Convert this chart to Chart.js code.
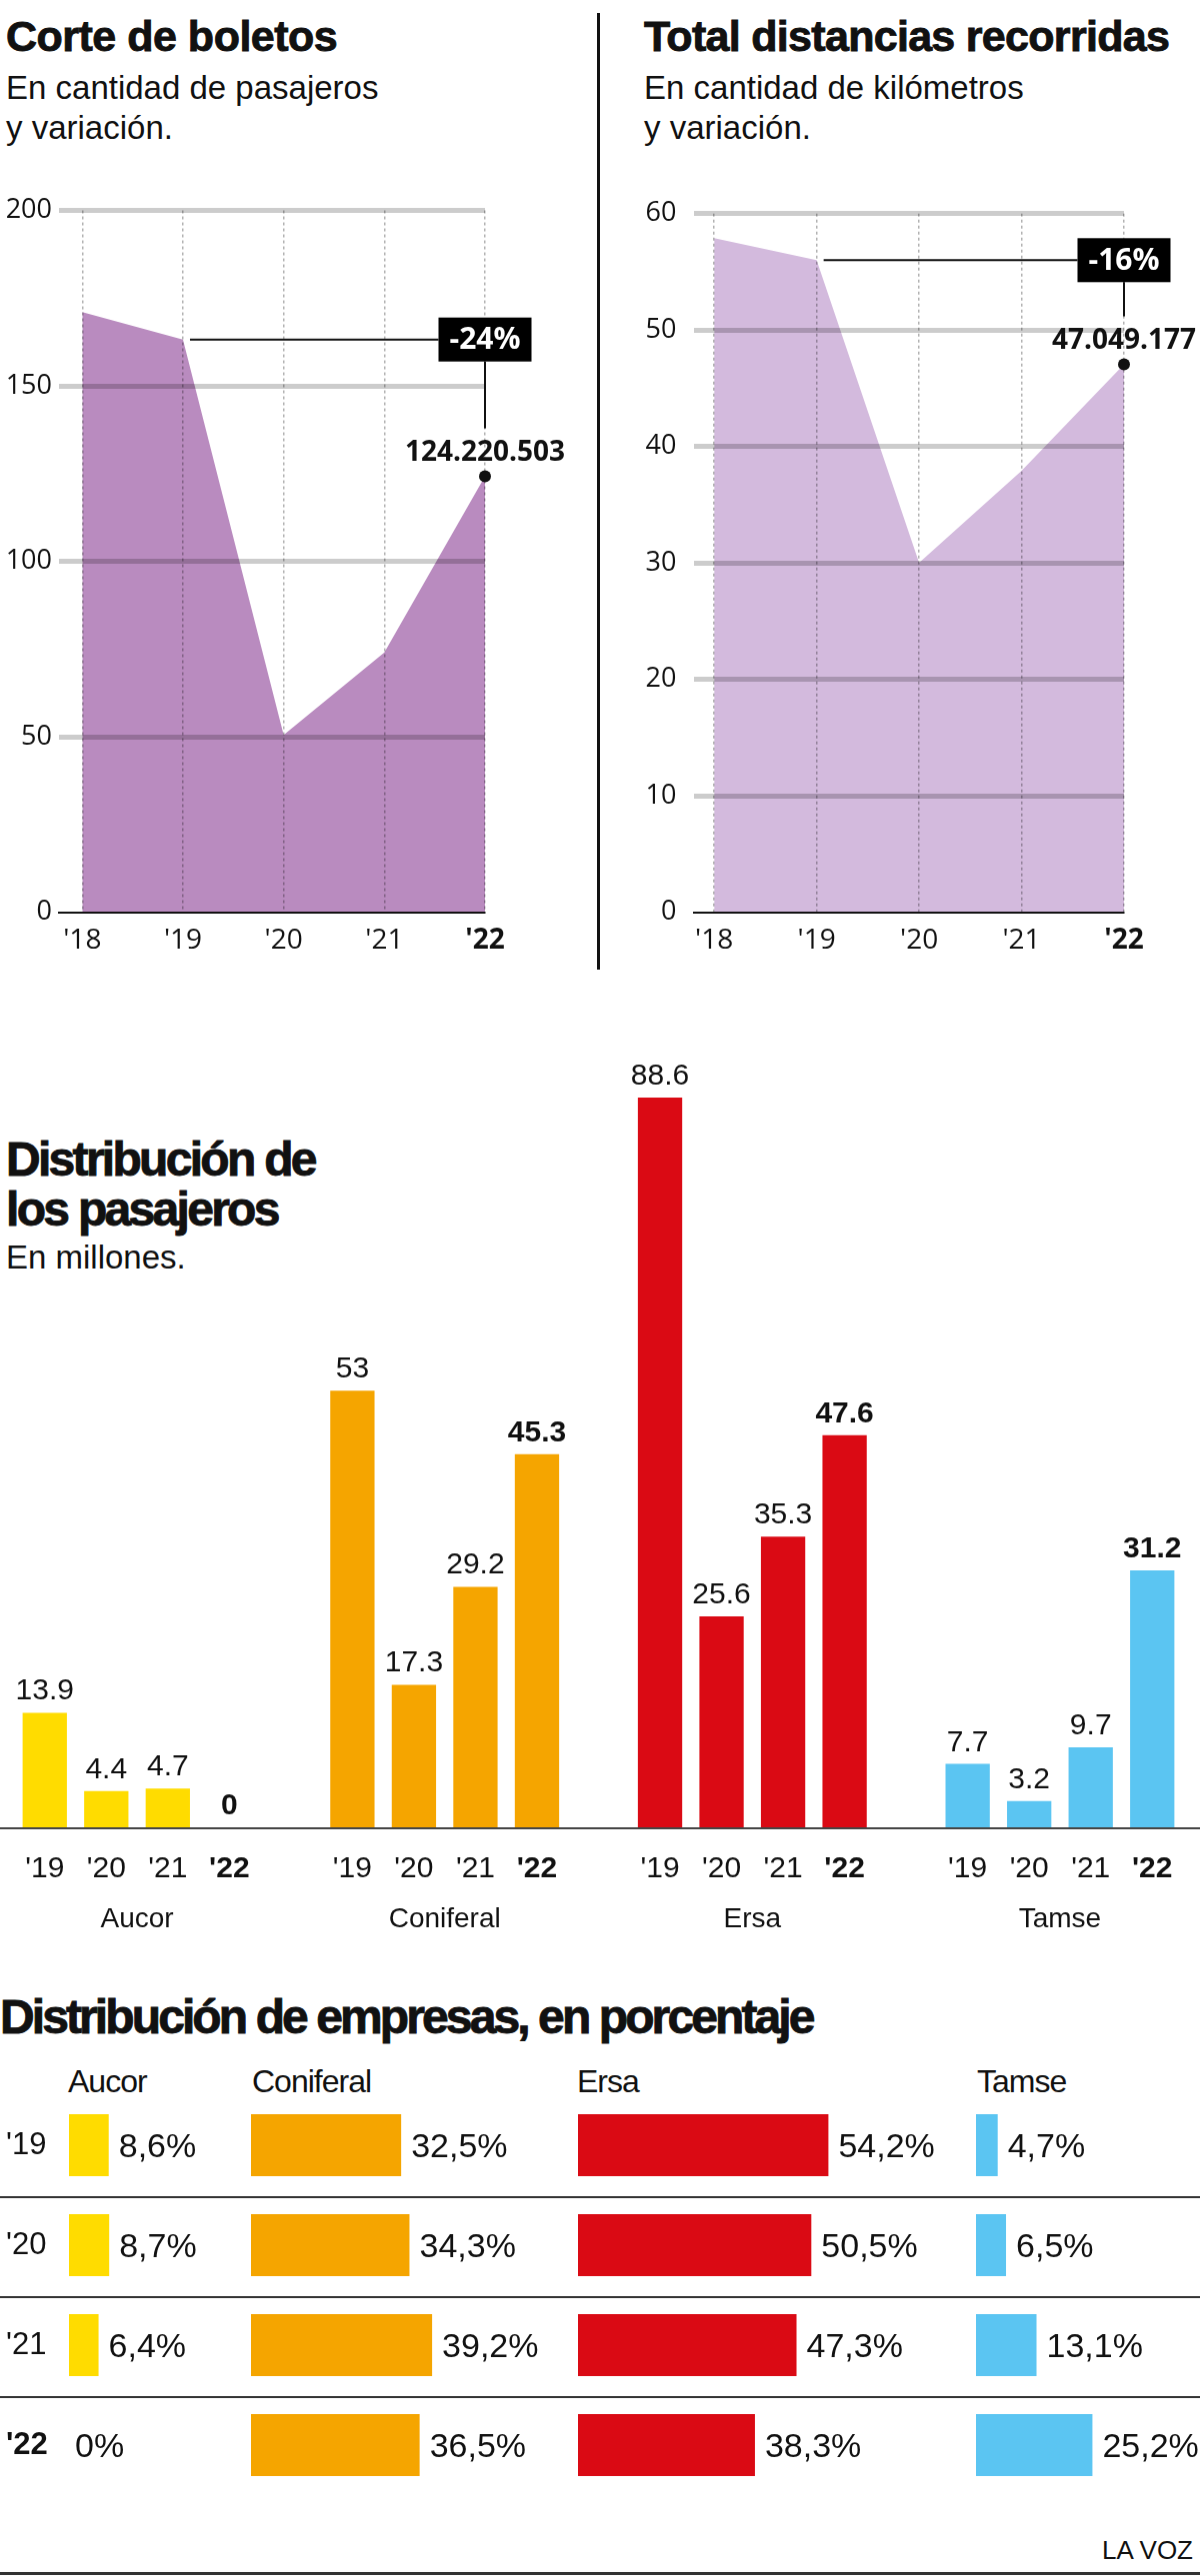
<!DOCTYPE html>
<html lang="es">
<head>
<meta charset="utf-8">
<title>Corte de boletos y distribución de pasajeros</title>
<script src="https://cdn.jsdelivr.net/npm/chart.js@4.4.1/dist/chart.umd.min.js"></script>
<style>
  body { margin: 0; background: #fff; }
  #page { position: relative; width: 1200px; height: 2577px; overflow: hidden; color: #111;
          font-family: "Liberation Sans", Arimo, Arial, sans-serif; }
  #page canvas, #page .txt, #page .rule { position: absolute; }
  .txt { white-space: nowrap; margin: 0; }
  .titulo { font-weight: bold; font-size: 43px; line-height: 43px; -webkit-text-stroke: 0.9px #111; }
  .grande { font-size: 48px; line-height: 50px; }
  .bajada { font-size: 33px; line-height: 40px; }
  .cabecera { font-size: 32px; line-height: 32px; letter-spacing: -1px; top: 2066px; }
  .rule { background: #333; left: 0; width: 1200px; height: 2px; }
</style>
</head>
<body>
<div id="page">
  <div class="txt titulo" style="left:6px;top:15px;letter-spacing:-0.5px">Corte de boletos</div>
  <div class="txt bajada" style="left:6px;top:68px">En cantidad de pasajeros<br>y variación.</div>
  <div class="txt titulo" style="left:644px;top:15px;letter-spacing:-0.7px">Total distancias recorridas</div>
  <div class="txt bajada" style="left:644px;top:68px">En cantidad de kilómetros<br>y variación.</div>
  <div class="rule" style="left:597px;top:13px;width:3px;height:957px;background:#111"></div>
  <canvas id="boletos" width="600" height="800" style="left:0;top:180px"></canvas>
  <canvas id="distancias" width="600" height="800" style="left:600px;top:180px"></canvas>

  <div class="txt titulo grande" style="left:6px;top:1135px;letter-spacing:-2.7px">Distribución de<br>los pasajeros</div>
  <div class="txt bajada" style="left:6px;top:1241px;line-height:33px">En millones.</div>
  <canvas id="pasajeros" width="1200" height="960" style="left:0;top:990px"></canvas>

  <div class="txt titulo grande" style="left:0;top:1994px;line-height:48px;letter-spacing:-2.9px">Distribución de empresas, en porcentaje</div>
  <div class="txt cabecera" style="left:68px">Aucor</div>
  <div class="txt cabecera" style="left:252px">Coniferal</div>
  <div class="txt cabecera" style="left:577px">Ersa</div>
  <div class="txt cabecera" style="left:977px">Tamse</div>
  <canvas id="pctAucor" width="250" height="400" style="left:0;top:2096px"></canvas>
  <canvas id="pctConiferal" width="326" height="400" style="left:251px;top:2096px"></canvas>
  <canvas id="pctErsa" width="398" height="400" style="left:578px;top:2096px"></canvas>
  <canvas id="pctTamse" width="224" height="400" style="left:976px;top:2096px"></canvas>
  <div class="rule" style="top:2197px"></div>
  <div class="rule" style="top:2297px"></div>
  <div class="rule" style="top:2397px"></div>
  <div class="txt" style="right:7px;top:2538px;font-size:26px;line-height:26px">LA VOZ</div>
  <div class="rule" style="top:2573px;height:3px"></div>
</div>

<script>
// datos
const anios5 = ["'18", "'19", "'20", "'21", "'22"];
const boletosMill = [171, 163.2, 50.5, 74, 124.2];
const boletosMarcas = [0, 50, 100, 150, 200];
const boletosVariacion = '-24%';
const boletosUltimo = '124.220.503';

const kmMill = [57.9, 56, 30, 37.9, 47.05];
const kmMarcas = [0, 10, 20, 30, 40, 50, 60];
const kmVariacion = '-16%';
const kmUltimo = '47.049.177';

const empresas = ['Aucor', 'Coniferal', 'Ersa', 'Tamse'];
const anios = ["'19", "'20", "'21", "'22"];
const aucor = [13.9, 4.4, 4.7, 0];
const coniferal = [53, 17.3, 29.2, 45.3];
const ersa = [88.6, 25.6, 35.3, 47.6];
const tamse = [7.7, 3.2, 9.7, 31.2];

const aucorPct = [8.6, 8.7, 6.4, 0];
const coniferalPct = [32.5, 34.3, 39.2, 36.5];
const ersaPct = [54.2, 50.5, 47.3, 38.3];
const tamsePct = [4.7, 6.5, 13.1, 25.2];

const colores = ['#ffdc00', '#f5a500', '#da0a14', '#5bc5f2'];

const FONT = '"Liberation Sans", Arimo, Arial, sans-serif';
const GEO = '"Open Sans", "DejaVu Sans", sans-serif';
const PX_POR_PUNTO = 4.62;

// caja negra con la variacion y etiqueta del ultimo valor
const notaPlugin = {
  id: 'nota',
  afterDraw(chart, args, opts) {
    const { ctx, scales: { x, y } } = chart;
    const d = chart.data.datasets[0].data;
    const x1 = x.getPixelForValue(1), y1 = y.getPixelForValue(d[1].y);
    const x4 = x.getPixelForValue(4), y4 = y.getPixelForValue(d[4].y);
    const bw = 93, bh = 44;
    const base = y4 - 16;
    ctx.save();
    ctx.strokeStyle = '#111';
    ctx.lineWidth = 2;
    ctx.beginPath();
    ctx.moveTo(x1 + 7, y1);
    ctx.lineTo(x4 - bw / 2, y1);
    ctx.moveTo(x4, y1 + bh / 2);
    ctx.lineTo(x4, base - 32);
    ctx.stroke();
    ctx.fillStyle = '#000';
    ctx.fillRect(x4 - bw / 2, y1 - bh / 2, bw, bh);
    ctx.fillStyle = '#fff';
    ctx.textAlign = 'center';
    ctx.textBaseline = 'middle';
    ctx.font = 'bold 30px ' + GEO;
    ctx.fillText(opts.variacion, x4, y1 + 1);
    ctx.fillStyle = '#111';
    ctx.textBaseline = 'alphabetic';
    ctx.font = 'bold 28px ' + GEO;
    ctx.fillText(opts.ultimo, x4, base);
    ctx.beginPath();
    ctx.arc(x4, y4, 6, 0, Math.PI * 2);
    ctx.fill();
    ctx.restore();
  }
};

function chartArea(id, valores, marcas, relleno, cfg) {
  return new Chart(document.getElementById(id), {
    type: 'line',
    data: {
      datasets: [{
        data: valores.map((v, i) => ({ x: i, y: v })),
        fill: 'origin',
        backgroundColor: relleno,
        borderWidth: 0,
        pointRadius: 0,
        tension: 0
      }]
    },
    options: {
      responsive: false,
      animation: false,
      events: [],
      layout: { padding: { top: 30.5, right: cfg.derecha, left: 0, bottom: 0 } },
      plugins: {
        legend: { display: false },
        tooltip: { enabled: false },
        nota: { variacion: cfg.variacion, ultimo: cfg.ultimo }
      },
      scales: {
        x: {
          type: 'linear',
          min: cfg.xMin,
          max: valores.length - 1,
          afterBuildTicks: s => { s.ticks = valores.map((v, i) => ({ value: i })); },
          afterFit: s => { s.height = 67.5; },
          ticks: {
            callback: v => anios5[v],
            color: '#111',
            padding: 12,
            autoSkip: false,
            maxRotation: 0,
            font: c => ({ family: GEO, size: 28, weight: c.index === 4 ? 'bold' : 'normal' })
          },
          grid: { color: 'rgba(0,0,0,0.3)', lineWidth: 1.5, drawTicks: false, z: 1 },
          border: { display: true, color: '#111', width: 2, dash: [3, 3], z: 2 }
        },
        y: {
          min: 0,
          max: marcas[marcas.length - 1],
          afterBuildTicks: s => { s.ticks = marcas.map(v => ({ value: v })); },
          afterFit: s => { s.width = cfg.ejeAncho; },
          ticks: { padding: cfg.ejePad, color: '#111', font: { family: GEO, size: 27 } },
          grid: {
            color: c => (c.tick && c.tick.value === 0) ? 'transparent' : 'rgba(0,0,0,0.2)',
            lineWidth: 5,
            drawTicks: false,
            z: 1
          },
          border: { display: false }
        }
      }
    },
    plugins: [notaPlugin]
  });
}

chartArea('boletos', boletosMill, boletosMarcas, '#b98bbf',
  { derecha: 115, xMin: -0.2315, ejeAncho: 59, ejePad: 7, variacion: boletosVariacion, ultimo: boletosUltimo });
chartArea('distancias', kmMill, kmMarcas, '#d3badd',
  { derecha: 76, xMin: -0.197, ejeAncho: 94, ejePad: 17.5, variacion: kmVariacion, ultimo: kmUltimo });

// barras agrupadas por empresa
const grupos = [aucor, coniferal, ersa, tamse];
const barEtiquetas = [], barValores = [], barColores = [];
grupos.forEach((serie, g) => {
  serie.forEach((v, j) => {
    barEtiquetas.push(anios[j]);
    barValores.push(v);
    barColores.push(colores[g]);
  });
  if (g < grupos.length - 1) {
    barEtiquetas.push('');
    barValores.push(null);
    barColores.push('rgba(0,0,0,0)');
  }
});

const etiquetasBarras = {
  id: 'etiquetasBarras',
  afterDatasetsDraw(chart) {
    const { ctx, chartArea } = chart;
    const meta = chart.getDatasetMeta(0);
    const xs = chart.scales.x;
    ctx.save();
    ctx.strokeStyle = '#444';
    ctx.lineWidth = 2;
    ctx.beginPath();
    ctx.moveTo(0, chartArea.bottom + 1);
    ctx.lineTo(chart.width, chartArea.bottom + 1);
    ctx.stroke();
    ctx.fillStyle = '#111';
    ctx.textAlign = 'center';
    ctx.textBaseline = 'alphabetic';
    meta.data.forEach((bar, i) => {
      const v = barValores[i];
      if (v === null) return;
      ctx.font = (i % 5 === 3 ? 'bold ' : '') + '30px ' + FONT;
      ctx.fillText(String(v), bar.x, bar.y - 13);
    });
    ctx.font = '28px ' + FONT;
    empresas.forEach((n, g) => {
      const cx = (xs.getPixelForValue(g * 5 + 1) + xs.getPixelForValue(g * 5 + 2)) / 2;
      ctx.fillText(n, cx, chartArea.bottom + 100);
    });
    ctx.restore();
  }
};

new Chart(document.getElementById('pasajeros'), {
  type: 'bar',
  data: {
    labels: barEtiquetas,
    datasets: [{ data: barValores, backgroundColor: barColores, barPercentage: 0.72, categoryPercentage: 1 }]
  },
  options: {
    responsive: false,
    animation: false,
    events: [],
    layout: { padding: { top: 14, left: 14, right: 17, bottom: 0 } },
    plugins: { legend: { display: false }, tooltip: { enabled: false } },
    scales: {
      x: {
        afterFit: s => { s.height = 122; },
        grid: { display: false },
        border: { display: false },
        ticks: {
          color: '#111',
          padding: 16,
          autoSkip: false,
          maxRotation: 0,
          font: c => ({ family: FONT, size: 30, weight: c.index % 5 === 3 ? 'bold' : 'normal' })
        }
      },
      y: { display: false, min: 0, max: 100 }
    }
  },
  plugins: [etiquetasBarras]
});

// porcentajes por empresa
const etiquetasPct = {
  id: 'etiquetasPct',
  afterDatasetsDraw(chart) {
    const { ctx } = chart;
    const datos = chart.data.datasets[0].data;
    ctx.save();
    ctx.fillStyle = '#111';
    ctx.textAlign = 'left';
    ctx.textBaseline = 'alphabetic';
    ctx.font = '34px ' + FONT;
    chart.getDatasetMeta(0).data.forEach((bar, i) => {
      const v = datos[i];
      const txt = v === 0 ? '0%' : v.toFixed(1).replace('.', ',') + '%';
      ctx.fillText(txt, bar.x + (v === 0 ? 6 : 10), bar.y + 12);
    });
    ctx.restore();
  }
};

function chartPct(id, valores, color, conEje) {
  const canvas = document.getElementById(id);
  const izq = conEje ? 69 : 0;
  return new Chart(canvas, {
    type: 'bar',
    data: {
      labels: anios,
      datasets: [{ data: valores, backgroundColor: color, barPercentage: 0.62, categoryPercentage: 1 }]
    },
    options: {
      indexAxis: 'y',
      responsive: false,
      animation: false,
      events: [],
      layout: { padding: { left: conEje ? 6 : 0, right: 0, top: 0, bottom: 0 } },
      plugins: { legend: { display: false }, tooltip: { enabled: false } },
      scales: {
        x: { display: false, min: 0, max: (canvas.width - izq) / PX_POR_PUNTO },
        y: {
          display: conEje,
          grid: { display: false },
          border: { display: false },
          afterFit: s => {
            s.width = conEje ? 63 : 0;
            s.paddingTop = 0;
            s.paddingBottom = 0;
          },
          ticks: {
            crossAlign: 'far',
            color: '#111',
            font: c => ({ family: FONT, size: 31, weight: c.index === 3 ? 'bold' : 'normal' })
          }
        }
      }
    },
    plugins: [etiquetasPct]
  });
}

chartPct('pctAucor', aucorPct, colores[0], true);
chartPct('pctConiferal', coniferalPct, colores[1], false);
chartPct('pctErsa', ersaPct, colores[2], false);
chartPct('pctTamse', tamsePct, colores[3], false);
</script>
</body>
</html>
